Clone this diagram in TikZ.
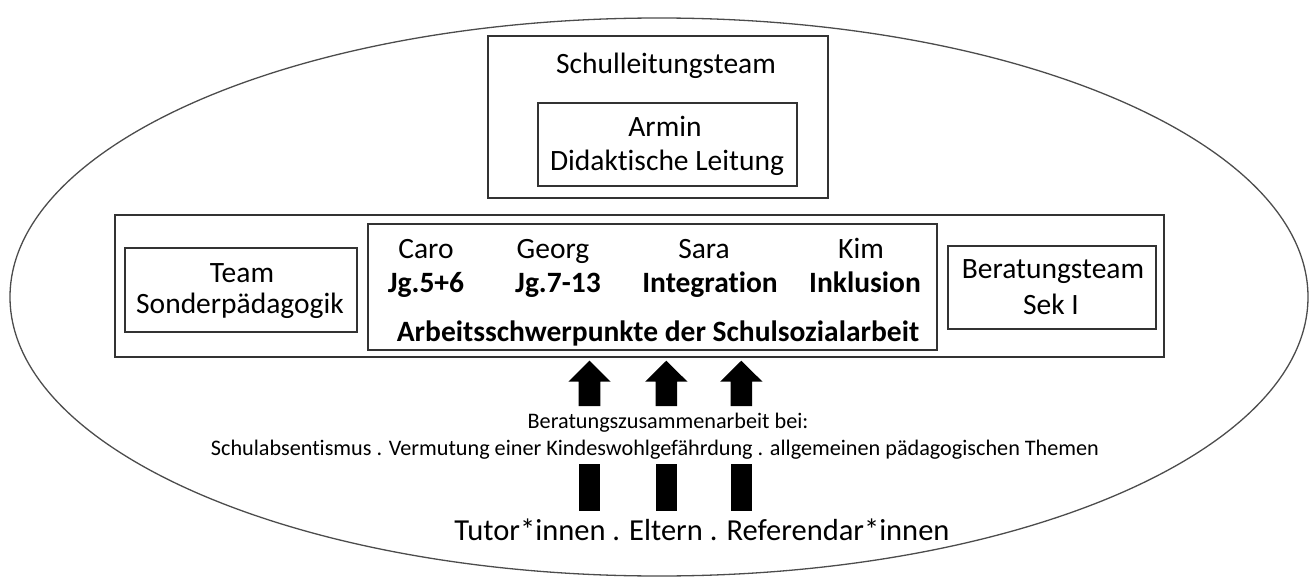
\documentclass[tikz,border=0pt]{standalone}
\usepackage{fontspec}
\setmainfont{Carlito}[Ligatures=NoCommon]
\begin{document}
\begin{tikzpicture}[x=1pt,y=-1pt,
  box/.style={draw=black!80, line width=1.4pt, inner sep=0pt, rectangle},
  lbl/.style={anchor=base, inner sep=0pt, font=\fontsize{29.5}{35}\selectfont},
  lblb/.style={anchor=base, inner sep=0pt, font=\fontsize{29.5}{35}\selectfont\bfseries},
  small/.style={anchor=base, inner sep=0pt, font=\fontsize{22.2}{27}\selectfont},
  big/.style={anchor=base, inner sep=0pt, font=\fontsize{30.5}{36}\selectfont},
  block/.style={fill=black}]
\useasboundingbox (0,0) rectangle (1310,578);
% outer ellipse
\draw[black!70, line width=1.3pt] (659,297) ellipse [x radius=649, y radius=279];
% top boxes
\node[box, minimum width=340, minimum height=162] (leit) at (658,117) {};
\node[box, minimum width=259, minimum height=83] (armin) at (667.5,144.5) {};
\node[lbl] (t1) at (666,74) {Schulleitungsteam};
\node[lbl] (t2) at (665,136) {Armin};
\node[lbl] (t3) at (667,170) {Didaktische Leitung};
% main row
\node[box, minimum width=1049, minimum height=142] (main) at (639.5,286) {};
\node[box, minimum width=232, minimum height=84] (team) at (241,290) {};
\node[box, minimum width=569, minimum height=126] (mid) at (652.5,287) {};
\node[box, minimum width=208, minimum height=83] (berat) at (1052,287.5) {};
\node[lbl] (team1) at (242,282) {Team};
\node[lbl] (team2) at (240,313) {Sonderpädagogik};
\node[lbl] (ber1) at (1053,278) {Beratungsteam};
\node[lbl] (ber2) at (1051,314) {Sek I};
\node[lbl] (caro) at (426,258) {Caro};
\node[lbl] (georg) at (553,258) {Georg};
\node[lbl] (sara) at (704,258) {Sara};
\node[lbl] (kim) at (861,258) {Kim};
\node[lblb] (jg1) at (426,292) {Jg.5+6};
\node[lblb] (jg2) at (558,292) {Jg.7-13};
\node[lblb] (integ) at (710,292) {Integration};
\node[lblb] (inkl) at (865,292) {Inklusion};
\node[lblb] (arb) at (658,341) {Arbeitsschwerpunkte der Schulsozialarbeit};
% block arrows
\foreach \cx in {589.5,666.3,741.3}{
  \fill[block] (\cx-21.2,381.7) -- (\cx,360.7) -- (\cx+21.2,381.7) -- (\cx+10.8,381.7)
    -- (\cx+10.8,406) -- (\cx-10.8,406) -- (\cx-10.8,381.7) -- cycle;
  \fill[block] (\cx-10.8,464.3) rectangle (\cx+10.8,510.7);
}
% texts below
\node[small] (bz1) at (668,428) {Beratungszusammenarbeit bei:};
\node[small] (bz2) at (655,455) {Schulabsentismus . Vermutung einer Kindeswohlgefährdung . allgemeinen pädagogischen Themen};
\node[big] (tut) at (702,540) {Tutor*innen . Eltern . Referendar*innen};
\end{tikzpicture}
\end{document}
